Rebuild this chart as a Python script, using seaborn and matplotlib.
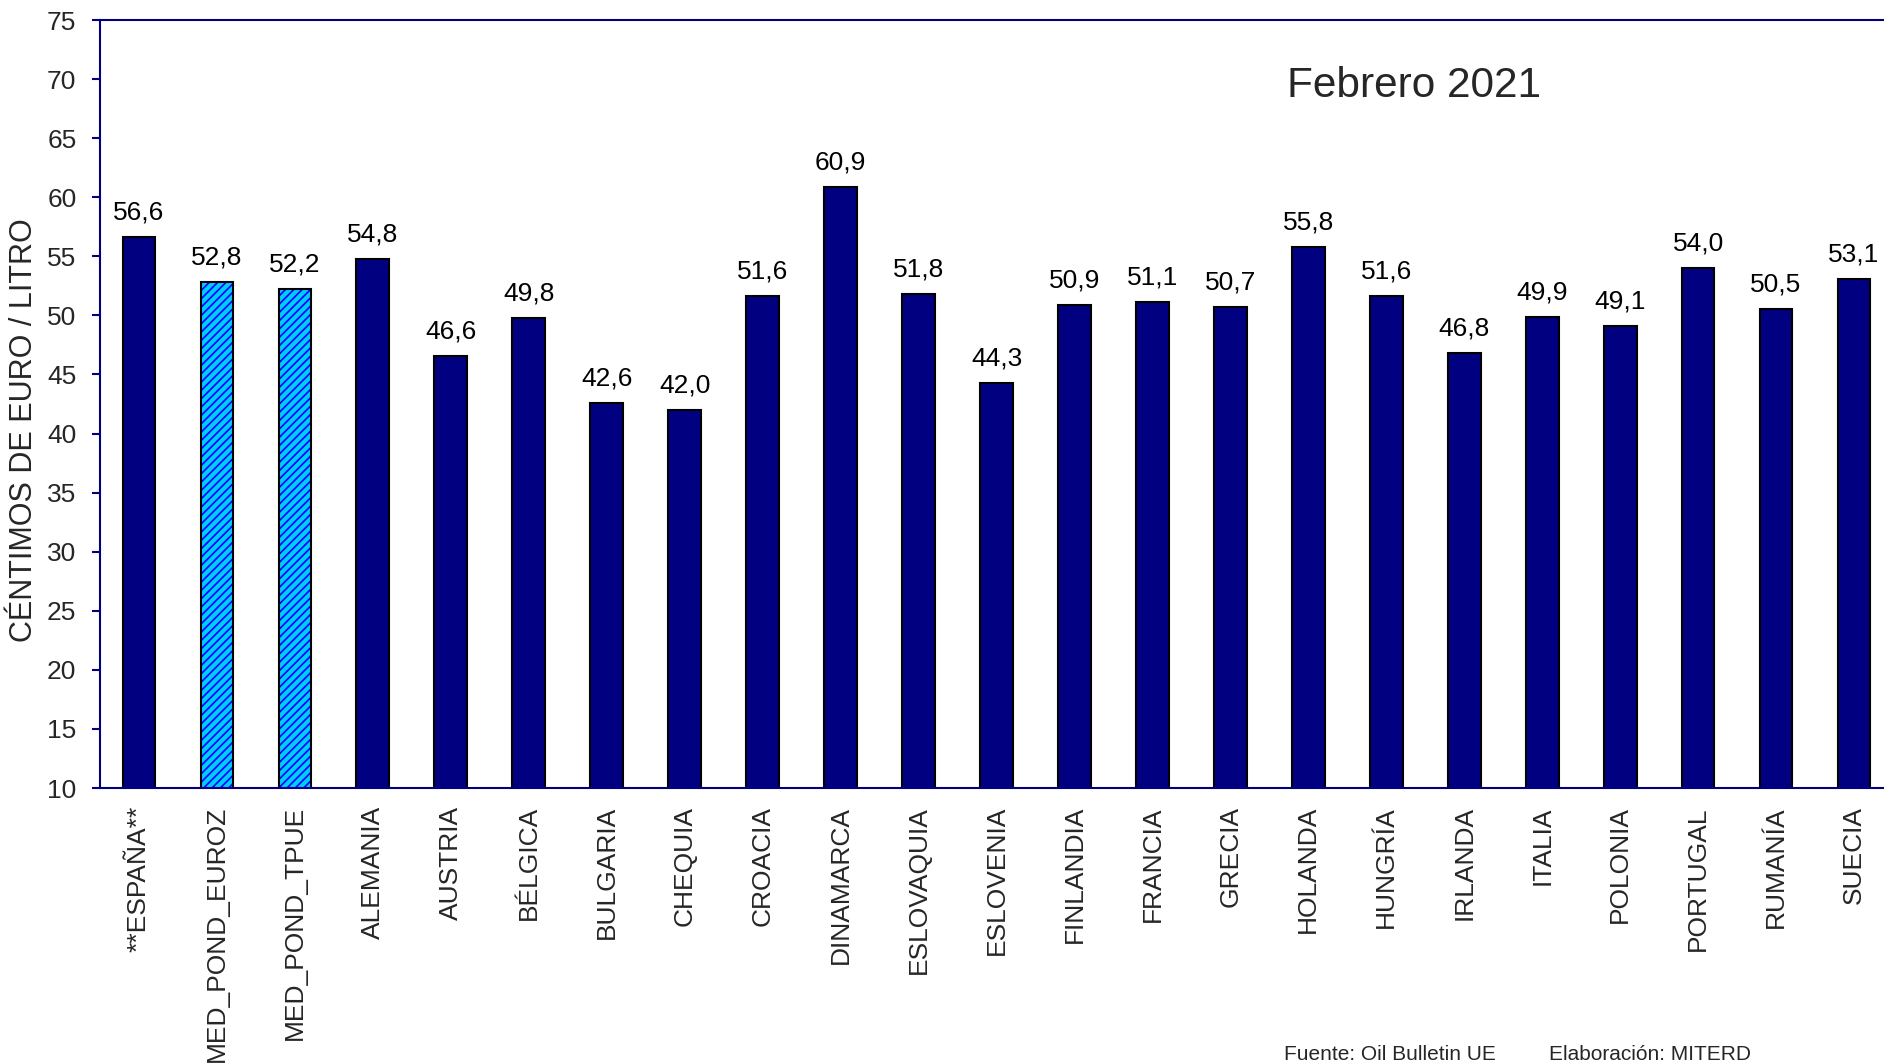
import matplotlib
matplotlib.use("Agg")
import matplotlib.pyplot as plt
import matplotlib.colors as mcolors
import seaborn as sns

# data
paises = [
    "**ESPAÑA**", "MED_POND_EUROZ", "MED_POND_TPUE", "ALEMANIA", "AUSTRIA",
    "BÉLGICA", "BULGARIA", "CHEQUIA", "CROACIA", "DINAMARCA", "ESLOVAQUIA",
    "ESLOVENIA", "FINLANDIA", "FRANCIA", "GRECIA", "HOLANDA", "HUNGRÍA",
    "IRLANDA", "ITALIA", "POLONIA", "PORTUGAL", "RUMANÍA", "SUECIA",
]
precios = [
    56.6, 52.8, 52.2, 54.8, 46.6, 49.8, 42.6, 42.0, 51.6, 60.9, 51.8,
    44.3, 50.9, 51.1, 50.7, 55.8, 51.6, 46.8, 49.9, 49.1, 54.0, 50.5, 53.1,
]
medias = ["MED_POND_EUROZ", "MED_POND_TPUE"]
y_ticks = list(range(10, 80, 5))

NAVY = "#000080"
CYAN = "#00CCFF"

sns.set_style("white")
plt.rcParams["font.family"] = ["Liberation Sans", "DejaVu Sans"]
plt.rcParams["hatch.linewidth"] = 1.2

fig = plt.figure(figsize=(18.84, 10.64), dpi=100)
ax = fig.add_axes([100 / 1884, 1 - 788 / 1064, 1793 / 1884, 768 / 1064])

palette = {p: (CYAN if p in medias else NAVY) for p in paises}
sns.barplot(x=paises, y=precios, hue=paises, palette=palette, legend=False,
            width=0.42, saturation=1, edgecolor="black", linewidth=1.5, ax=ax)

# the two EU averages get the blue diagonal hatch
for patch, p in zip(ax.patches, paises):
    if p in medias:
        patch.set_hatch("////")
        patch._hatch_color = mcolors.to_rgba("#0000FF")

for cont in ax.containers:
    ax.bar_label(cont, labels=[f"{v:.1f}".replace(".", ",") for v in cont.datavalues],
                 padding=9, fontsize=19, color="black")

ax.set_ylim(10, 75)
ax.set_xlim(-0.5, len(paises) - 0.5)
ax.set_yticks(y_ticks)
ax.tick_params(axis="y", direction="out", length=6, width=1.5, color=NAVY,
               labelsize=19, pad=11, left=True)
ax.tick_params(axis="x", length=0, labelsize=19, pad=13, rotation=90)

for side in ["left", "bottom", "top"]:
    ax.spines[side].set_color(NAVY)
    ax.spines[side].set_linewidth(1.5)
ax.spines["right"].set_visible(False)

ax.set_ylabel("CÉNTIMOS DE EURO / LITRO", fontsize=22)
ax.yaxis.set_label_coords(-0.034, 0.466)
ax.set_xlabel("")

ax.text(0.733, 0.8997, "Febrero 2021", transform=ax.transAxes, fontsize=30.5,
        ha="center", va="baseline")

fig.text(1284 / 1884, 1 - 1045 / 1064, "Fuente: Oil Bulletin UE", fontsize=15, va="top")
fig.text(1549 / 1884, 1 - 1045 / 1064, "Elaboración: MITERD", fontsize=15, va="top")

fig.savefig("out.png", dpi=100)
